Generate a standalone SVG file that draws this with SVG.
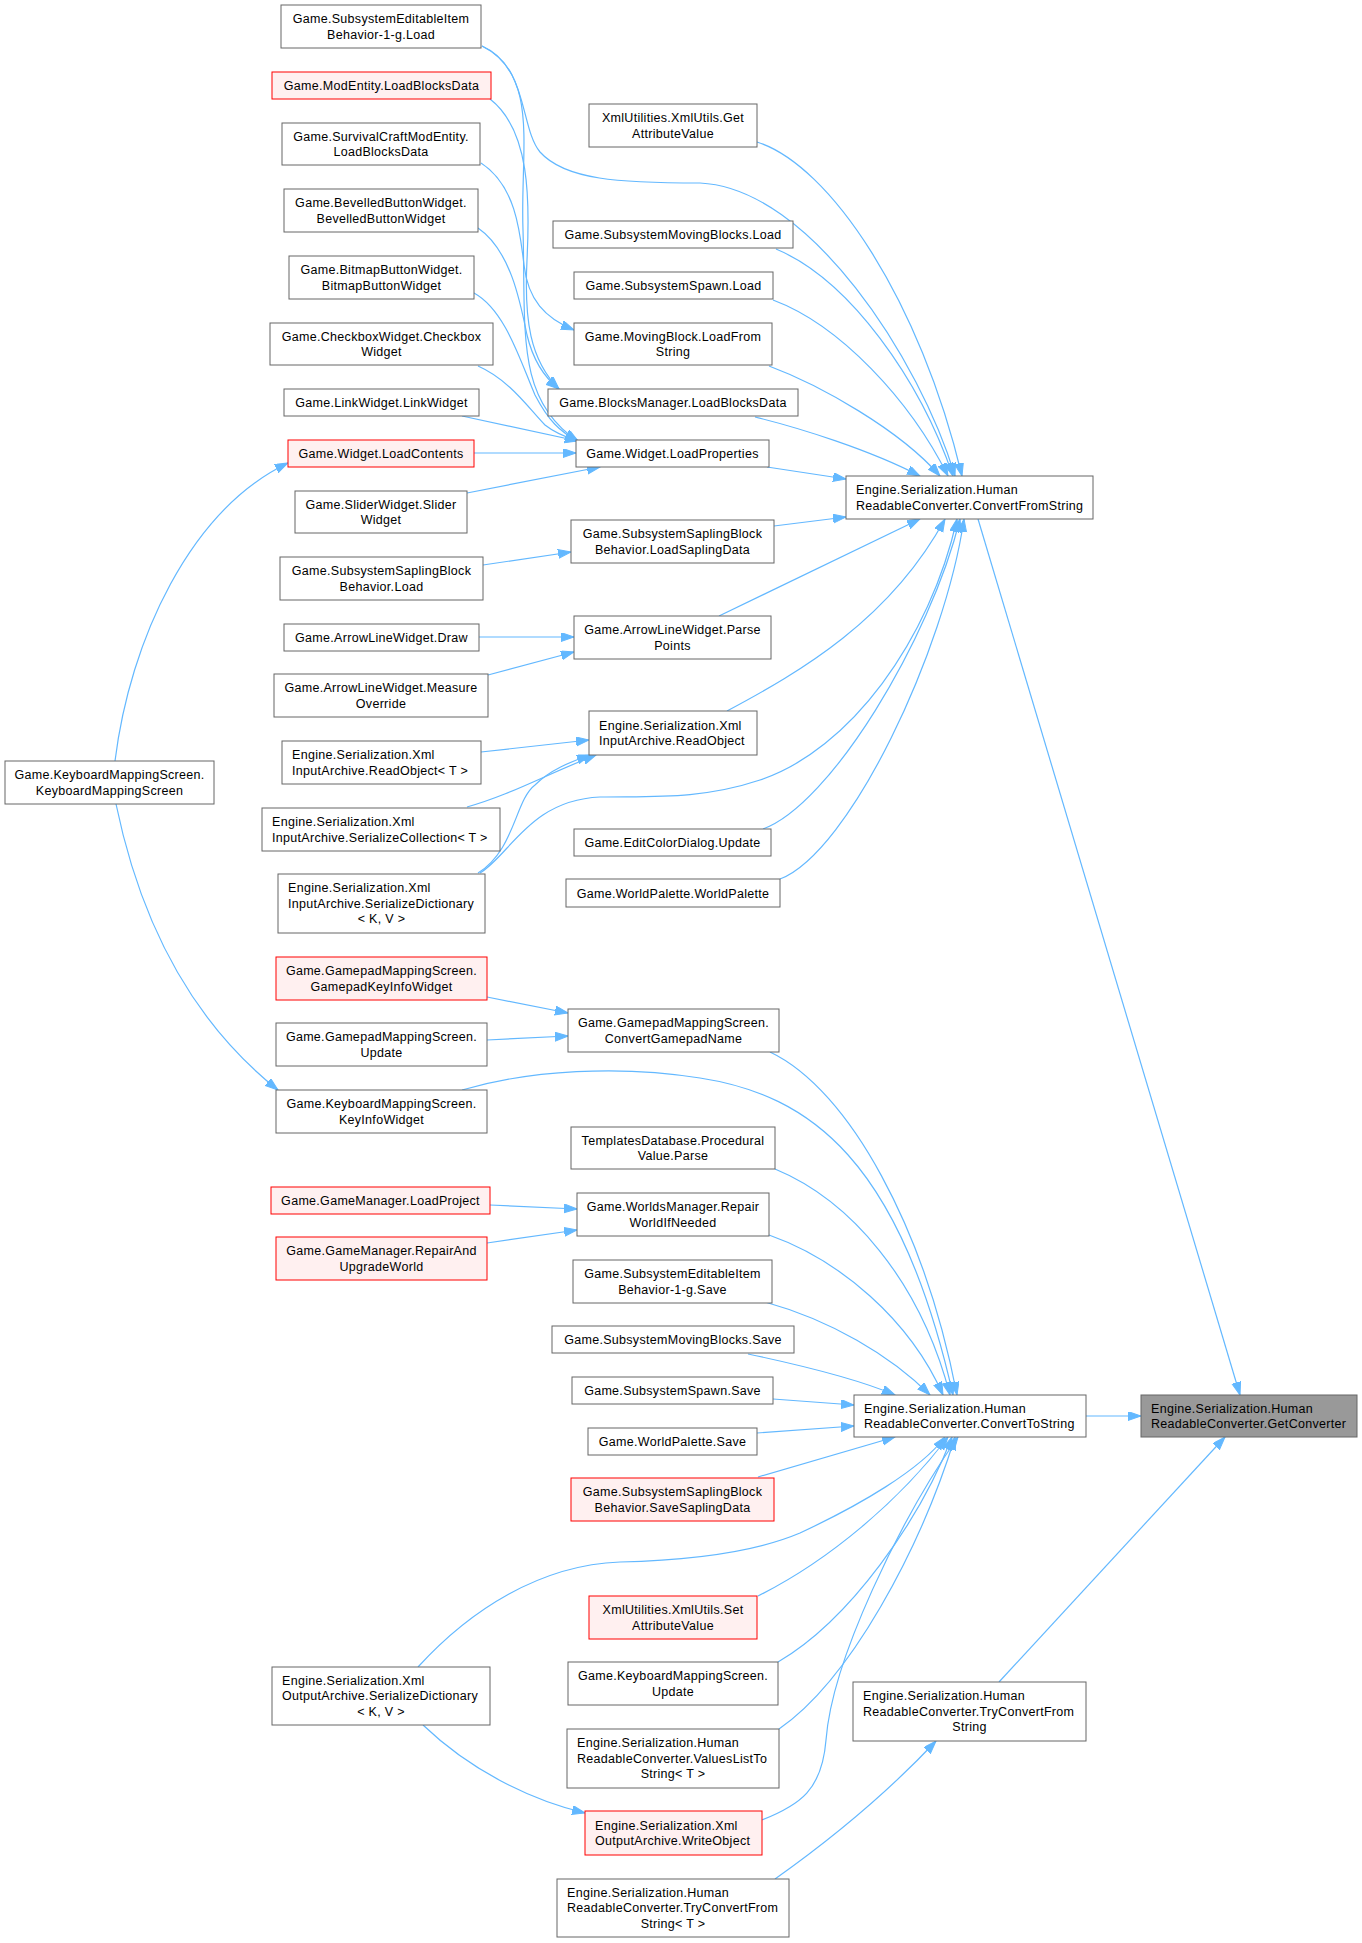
<svg xmlns="http://www.w3.org/2000/svg" width="1362" height="1943" viewBox="0 0 1362 1943">
<style>
rect{fill:#fff;stroke:#666;stroke-width:1}
.r rect{fill:#fff0f0;stroke:#f00}
.g rect{fill:#999;stroke:#666}
text{font-family:"Liberation Sans",Arial,sans-serif;font-size:12.5px;letter-spacing:0.3px;fill:#000}
.c{text-anchor:middle}
#edges path{fill:none;stroke:#63b8ff;stroke-width:1.2;marker-end:url(#a)}
</style>
<defs>
<marker id="a" markerUnits="userSpaceOnUse" markerWidth="14" markerHeight="10" viewBox="0 0 14 10" refX="13" refY="4.5" orient="auto"><path d="M0,0 L13,4.5 L0,9 z" fill="#63b8ff" stroke="#63b8ff" stroke-width="1"/></marker>
</defs>
<rect x="0" y="0" width="1362" height="1943" style="fill:#fff;stroke:none"/>
<g id="edges">
<path d="M482,46 C528,66 520,128 540,152 C565,180 620,183 700,183 C810,188 920,360 955,476"/>
<path d="M482,46 C540,75 520,150 523,230 C526,330 515,400 578,441"/>
<path d="M490,99 C530,130 530,200 527,260 C524,320 530,360 559,389"/>
<path d="M481,163 C515,185 520,230 524,265 C528,300 545,318 574,330"/>
<path d="M478,228 C510,250 520,300 527,335 C533,360 545,378 559,389"/>
<path d="M474,293 C505,310 520,360 535,395 C548,420 560,432 578,441"/>
<path d="M478,366 C510,380 530,410 545,425 C555,433 565,437 578,441"/>
<path d="M462,416 L578,441"/>
<path d="M474,453 L576,453"/>
<path d="M467,493 L600,467"/>
<path d="M757,142 C830,165 920,300 962,476"/>
<path d="M776,249 C850,280 920,380 953,476"/>
<path d="M773,300 C840,325 910,400 948,476"/>
<path d="M769,366 C820,385 900,430 940,476"/>
<path d="M755,417 C800,428 870,450 920,476"/>
<path d="M767,467 L846,479"/>
<path d="M774,526 L846,517"/>
<path d="M719,616 L920,519"/>
<path d="M727,711 C800,672 890,620 945,519"/>
<path d="M480,873 C510,855 530,800 600,797 C650,796 700,800 760,780 C850,750 930,640 957,519"/>
<path d="M763,829 C830,805 930,640 960,519"/>
<path d="M780,879 C850,852 945,650 964,519"/>
<path d="M978,519 L1240,1395"/>
<path d="M483,565 L571,552"/>
<path d="M479,637 L574,637"/>
<path d="M488,675 L574,652"/>
<path d="M481,752 L589,740"/>
<path d="M467,807 C510,795 545,775 596,755"/>
<path d="M478,873 C515,850 515,800 535,785 C550,770 570,762 590,755"/>
<path d="M115,761 C130,640 190,510 288,463"/>
<path d="M116,804 C140,920 190,1020 278,1090"/>
<path d="M487,997 L568,1013"/>
<path d="M487,1040 L568,1036"/>
<path d="M490,1205 L577,1209"/>
<path d="M487,1243 L577,1230"/>
<path d="M770,1052 C850,1090 925,1230 957,1395"/>
<path d="M462,1090 C530,1070 620,1065 700,1078 C810,1095 900,1160 953,1395"/>
<path d="M775,1169 C850,1200 920,1280 950,1395"/>
<path d="M769,1235 C840,1260 910,1320 943,1395"/>
<path d="M765,1302 C830,1320 890,1355 930,1395"/>
<path d="M748,1354 C800,1365 860,1380 895,1395"/>
<path d="M773,1399 L854,1405"/>
<path d="M757,1433 L854,1426"/>
<path d="M758,1477 L895,1437"/>
<path d="M418,1667 C470,1610 540,1565 620,1562 C700,1560 760,1550 800,1533 C860,1505 920,1470 945,1437"/>
<path d="M758,1596 C830,1560 900,1500 948,1437"/>
<path d="M778,1662 C850,1620 920,1520 952,1437"/>
<path d="M779,1729 C850,1680 920,1550 955,1437"/>
<path d="M762,1820 C800,1805 822,1790 826,1740 C832,1660 900,1520 958,1437"/>
<path d="M423,1725 C470,1770 530,1800 585,1813"/>
<path d="M775,1879 C830,1840 890,1790 936,1741"/>
<path d="M999,1682 L1225,1437"/>
<path d="M1086,1416 L1141,1416"/>
</g>
<g id="n0"><rect x="5" y="761" width="209" height="43"/><text class="c" x="109.5" y="779">Game.KeyboardMappingScreen.</text><text class="c" x="109.5" y="794.5">KeyboardMappingScreen</text></g>
<g id="n1"><rect x="281" y="5" width="200" height="43"/><text class="c" x="381" y="23">Game.SubsystemEditableItem</text><text class="c" x="381" y="38.5">Behavior-1-g.Load</text></g>
<g id="n2" class="r"><rect x="272" y="72" width="219" height="27"/><text class="c" x="381.5" y="90">Game.ModEntity.LoadBlocksData</text></g>
<g id="n3"><rect x="282" y="123" width="198" height="42"/><text class="c" x="381" y="140.5">Game.SurvivalCraftModEntity.</text><text class="c" x="381" y="156">LoadBlocksData</text></g>
<g id="n4"><rect x="284" y="189" width="194" height="43"/><text class="c" x="381" y="207">Game.BevelledButtonWidget.</text><text class="c" x="381" y="222.5">BevelledButtonWidget</text></g>
<g id="n5"><rect x="289" y="256" width="185" height="43"/><text class="c" x="381.5" y="274">Game.BitmapButtonWidget.</text><text class="c" x="381.5" y="289.5">BitmapButtonWidget</text></g>
<g id="n6"><rect x="270" y="323" width="223" height="42"/><text class="c" x="381.5" y="340.5">Game.CheckboxWidget.Checkbox</text><text class="c" x="381.5" y="356">Widget</text></g>
<g id="n7"><rect x="284" y="389" width="195" height="27"/><text class="c" x="381.5" y="407">Game.LinkWidget.LinkWidget</text></g>
<g id="n8" class="r"><rect x="288" y="440" width="186" height="27"/><text class="c" x="381" y="458">Game.Widget.LoadContents</text></g>
<g id="n9"><rect x="295" y="491" width="172" height="42"/><text class="c" x="381" y="508.5">Game.SliderWidget.Slider</text><text class="c" x="381" y="524">Widget</text></g>
<g id="n10"><rect x="280" y="557" width="203" height="43"/><text class="c" x="381.5" y="575">Game.SubsystemSaplingBlock</text><text class="c" x="381.5" y="590.5">Behavior.Load</text></g>
<g id="n11"><rect x="284" y="624" width="195" height="27"/><text class="c" x="381.5" y="642">Game.ArrowLineWidget.Draw</text></g>
<g id="n12"><rect x="274" y="674" width="214" height="43"/><text class="c" x="381" y="692">Game.ArrowLineWidget.Measure</text><text class="c" x="381" y="707.5">Override</text></g>
<g id="n13"><rect x="282" y="741" width="199" height="43"/><text x="292" y="759">Engine.Serialization.Xml</text><text x="292" y="774.5">InputArchive.ReadObject&lt; T &gt;</text></g>
<g id="n14"><rect x="262" y="808" width="238" height="43"/><text x="272" y="826">Engine.Serialization.Xml</text><text x="272" y="841.5">InputArchive.SerializeCollection&lt; T &gt;</text></g>
<g id="n15"><rect x="278" y="874" width="207" height="59"/><text x="288" y="892">Engine.Serialization.Xml</text><text x="288" y="907.5">InputArchive.SerializeDictionary</text><text class="c" x="381.5" y="923">&lt; K, V &gt;</text></g>
<g id="n16" class="r"><rect x="276" y="957" width="211" height="43"/><text class="c" x="381.5" y="975">Game.GamepadMappingScreen.</text><text class="c" x="381.5" y="990.5">GamepadKeyInfoWidget</text></g>
<g id="n17"><rect x="276" y="1023" width="211" height="43"/><text class="c" x="381.5" y="1041">Game.GamepadMappingScreen.</text><text class="c" x="381.5" y="1056.5">Update</text></g>
<g id="n18"><rect x="276" y="1090" width="211" height="43"/><text class="c" x="381.5" y="1108">Game.KeyboardMappingScreen.</text><text class="c" x="381.5" y="1123.5">KeyInfoWidget</text></g>
<g id="n19" class="r"><rect x="271" y="1187" width="219" height="27"/><text class="c" x="380.5" y="1205">Game.GameManager.LoadProject</text></g>
<g id="n20" class="r"><rect x="276" y="1237" width="211" height="43"/><text class="c" x="381.5" y="1255">Game.GameManager.RepairAnd</text><text class="c" x="381.5" y="1270.5">UpgradeWorld</text></g>
<g id="n21"><rect x="272" y="1667" width="218" height="58"/><text x="282" y="1684.5">Engine.Serialization.Xml</text><text x="282" y="1700">OutputArchive.SerializeDictionary</text><text class="c" x="381" y="1715.5">&lt; K, V &gt;</text></g>
<g id="m1"><rect x="589" y="104" width="168" height="43"/><text class="c" x="673" y="122">XmlUtilities.XmlUtils.Get</text><text class="c" x="673" y="137.5">AttributeValue</text></g>
<g id="m2"><rect x="553" y="221" width="240" height="27"/><text class="c" x="673" y="239">Game.SubsystemMovingBlocks.Load</text></g>
<g id="m3"><rect x="574" y="272" width="199" height="27"/><text class="c" x="673.5" y="290">Game.SubsystemSpawn.Load</text></g>
<g id="m4"><rect x="574" y="323" width="198" height="42"/><text class="c" x="673" y="340.5">Game.MovingBlock.LoadFrom</text><text class="c" x="673" y="356">String</text></g>
<g id="m5"><rect x="548" y="389" width="250" height="27"/><text class="c" x="673" y="407">Game.BlocksManager.LoadBlocksData</text></g>
<g id="m6"><rect x="576" y="440" width="193" height="27"/><text class="c" x="672.5" y="458">Game.Widget.LoadProperties</text></g>
<g id="m7"><rect x="571" y="520" width="203" height="43"/><text class="c" x="672.5" y="538">Game.SubsystemSaplingBlock</text><text class="c" x="672.5" y="553.5">Behavior.LoadSaplingData</text></g>
<g id="m8"><rect x="574" y="616" width="197" height="43"/><text class="c" x="672.5" y="634">Game.ArrowLineWidget.Parse</text><text class="c" x="672.5" y="649.5">Points</text></g>
<g id="m9"><rect x="589" y="711" width="168" height="44"/><text x="599" y="729.5">Engine.Serialization.Xml</text><text x="599" y="745">InputArchive.ReadObject</text></g>
<g id="m10"><rect x="574" y="829" width="197" height="27"/><text class="c" x="672.5" y="847">Game.EditColorDialog.Update</text></g>
<g id="m11"><rect x="566" y="879" width="214" height="28"/><text class="c" x="673" y="897.5">Game.WorldPalette.WorldPalette</text></g>
<g id="m12"><rect x="568" y="1009" width="211" height="43"/><text class="c" x="673.5" y="1027">Game.GamepadMappingScreen.</text><text class="c" x="673.5" y="1042.5">ConvertGamepadName</text></g>
<g id="m13"><rect x="571" y="1127" width="204" height="42"/><text class="c" x="673" y="1144.5">TemplatesDatabase.Procedural</text><text class="c" x="673" y="1160">Value.Parse</text></g>
<g id="m14"><rect x="577" y="1193" width="192" height="43"/><text class="c" x="673" y="1211">Game.WorldsManager.Repair</text><text class="c" x="673" y="1226.5">WorldIfNeeded</text></g>
<g id="m15"><rect x="573" y="1260" width="199" height="43"/><text class="c" x="672.5" y="1278">Game.SubsystemEditableItem</text><text class="c" x="672.5" y="1293.5">Behavior-1-g.Save</text></g>
<g id="m16"><rect x="552" y="1326" width="242" height="27"/><text class="c" x="673" y="1344">Game.SubsystemMovingBlocks.Save</text></g>
<g id="m17"><rect x="572" y="1377" width="201" height="27"/><text class="c" x="672.5" y="1395">Game.SubsystemSpawn.Save</text></g>
<g id="m18"><rect x="588" y="1428" width="169" height="27"/><text class="c" x="672.5" y="1446">Game.WorldPalette.Save</text></g>
<g id="m19" class="r"><rect x="571" y="1478" width="203" height="43"/><text class="c" x="672.5" y="1496">Game.SubsystemSaplingBlock</text><text class="c" x="672.5" y="1511.5">Behavior.SaveSaplingData</text></g>
<g id="m20" class="r"><rect x="589" y="1596" width="168" height="43"/><text class="c" x="673" y="1614">XmlUtilities.XmlUtils.Set</text><text class="c" x="673" y="1629.5">AttributeValue</text></g>
<g id="m21"><rect x="568" y="1662" width="210" height="43"/><text class="c" x="673" y="1680">Game.KeyboardMappingScreen.</text><text class="c" x="673" y="1695.5">Update</text></g>
<g id="m22"><rect x="567" y="1729" width="212" height="59"/><text x="577" y="1747">Engine.Serialization.Human</text><text x="577" y="1762.5">ReadableConverter.ValuesListTo</text><text class="c" x="673" y="1778">String&lt; T &gt;</text></g>
<g id="m23" class="r"><rect x="585" y="1811" width="177" height="44"/><text x="595" y="1829.5">Engine.Serialization.Xml</text><text x="595" y="1845">OutputArchive.WriteObject</text></g>
<g id="m24"><rect x="557" y="1879" width="232" height="58"/><text x="567" y="1896.5">Engine.Serialization.Human</text><text x="567" y="1912">ReadableConverter.TryConvertFrom</text><text class="c" x="673" y="1927.5">String&lt; T &gt;</text></g>
<g id="r1"><rect x="846" y="476" width="247" height="43"/><text x="856" y="494">Engine.Serialization.Human</text><text x="856" y="509.5">ReadableConverter.ConvertFromString</text></g>
<g id="r2"><rect x="854" y="1395" width="232" height="42"/><text x="864" y="1412.5">Engine.Serialization.Human</text><text x="864" y="1428">ReadableConverter.ConvertToString</text></g>
<g id="r3"><rect x="853" y="1682" width="233" height="59"/><text x="863" y="1700">Engine.Serialization.Human</text><text x="863" y="1715.5">ReadableConverter.TryConvertFrom</text><text class="c" x="969.5" y="1731">String</text></g>
<g id="r4" class="g"><rect x="1141" y="1395" width="216" height="42"/><text x="1151" y="1412.5">Engine.Serialization.Human</text><text x="1151" y="1428">ReadableConverter.GetConverter</text></g>
</svg>
